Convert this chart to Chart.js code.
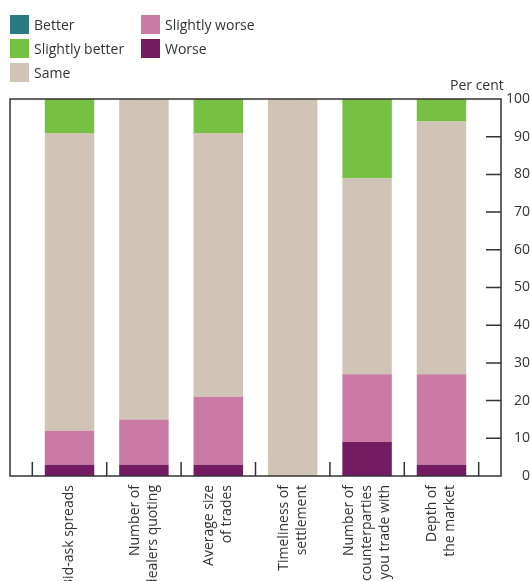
<!DOCTYPE html>
<html>
<head>
<meta charset="utf-8">
<script src="https://cdn.jsdelivr.net/npm/chart.js@4.4.0/dist/chart.umd.min.js"></script>
<style>
  body { margin: 0; background: #fff; font-family: "Open Sans", sans-serif; color: #333; }
  #wrap { position: relative; width: 530px; height: 581px; overflow: hidden; }
  #chart { position: absolute; left: 0; top: 0; }
  #legend {
    position: absolute; left: 10px; top: 12px;
    display: grid; grid-template-columns: 131px auto;
    grid-template-rows: repeat(3, 24px); grid-auto-flow: column;
    font-size: 14px;
  }
  #legend div { display: flex; align-items: center; }
  #legend span.box { width: 19px; height: 19px; margin-right: 5px; }
  #unit { position: absolute; left: 450px; top: 76px; font-size: 14px; line-height: 18px; }
</style>
</head>
<body>
<div id="wrap">
  <canvas id="chart" width="530" height="581"></canvas>
  <div id="legend"></div>
  <div id="unit">Per cent</div>
</div>
<script>
// categories (multi-line labels)
const categories = [
    ["Bid-ask spreads"],
    ["Number of", "dealers quoting"],
    ["Average size", "of trades"],
    ["Timeliness of", "settlement"],
    ["Number of", "counterparties", "you trade with"],
    ["Depth of", "the market"]
];

// series, per cent of respondents
const better         = [0, 0, 0, 0, 0, 0];
const slightlyBetter = [9, 0, 9, 0, 21, 6];
const same           = [79, 85, 70, 100, 52, 67];
const slightlyWorse  = [9, 12, 18, 0, 18, 24];
const worse          = [3, 3, 3, 0, 9, 3];

const yTicks = [0, 10, 20, 30, 40, 50, 60, 70, 80, 90, 100];

// legend order (top-down, left column first)
const legendNames  = ["Better", "Slightly better", "Same", "Slightly worse", "Worse"];
const legendColors = ["#2a7b80", "#76c043", "#d0c4b6", "#c97ba4", "#741c62"];

const toPoints = (arr) => arr.map((v, i) => ({ x: i, y: v }));

// stacking goes bottom-up: worse first
const stackOrder = [
    { name: "Worse", data: worse },
    { name: "Slightly worse", data: slightlyWorse },
    { name: "Same", data: same },
    { name: "Slightly better", data: slightlyBetter },
    { name: "Better", data: better }
];

const datasets = stackOrder.map((s) => ({
    label: s.name,
    data: toPoints(s.data),
    backgroundColor: legendColors[legendNames.indexOf(s.name)],
    borderWidth: 0,
    barPercentage: 0.665,
    categoryPercentage: 1
}));

// html legend
const legendEl = document.getElementById("legend");
legendNames.forEach((n, i) => {
    const item = document.createElement("div");
    item.innerHTML = `<span class="box" style="background:${legendColors[i]}"></span>${n}`;
    legendEl.appendChild(item);
});

const FONT = '"Open Sans", sans-serif';

// box, inward ticks and rotated category labels
const frame = {
    id: "frame",
    afterDatasetsDraw(chart) {
        const { ctx, chartArea: a, scales } = chart;
        const x = scales.x, y = scales.y;
        ctx.save();
        ctx.strokeStyle = "#333";
        ctx.lineWidth = 1.5;
        ctx.strokeRect(a.left, a.top, a.right - a.left, a.bottom - a.top);

        ctx.beginPath();
        yTicks.forEach((v) => {
            if (v > 0 && v < 100) {
                const py = y.getPixelForValue(v);
                ctx.moveTo(a.right - 15, py);
                ctx.lineTo(a.right, py);
            }
        });
        for (let i = 0; i <= categories.length; i++) {
            const px = x.getPixelForValue(i - 0.5);
            ctx.moveTo(px, a.bottom);
            ctx.lineTo(px, a.bottom - 14);
        }
        ctx.stroke();

        ctx.fillStyle = "#333";
        ctx.font = "14px " + FONT;
        ctx.textAlign = "right";
        ctx.textBaseline = "middle";
        categories.forEach((lines, i) => {
            const px = x.getPixelForValue(i);
            lines.forEach((t, j) => {
                ctx.save();
                ctx.translate(px + (j - (lines.length - 1) / 2) * 18, a.bottom + 9);
                ctx.rotate(-Math.PI / 2);
                ctx.fillText(t, 0, 0);
                ctx.restore();
            });
        });
        ctx.restore();
    }
};

new Chart(document.getElementById("chart"), {
    type: "bar",
    data: { datasets: datasets },
    options: {
        responsive: false,
        animation: false,
        layout: { padding: { top: 99, left: 10, right: 0, bottom: 0 } },
        plugins: { legend: { display: false }, tooltip: { enabled: false } },
        scales: {
            x: {
                type: "linear",
                min: -0.8,
                max: 5.8,
                offset: false,
                stacked: true,
                grid: { display: false },
                border: { display: false },
                afterBuildTicks: (s) => { s.ticks = categories.map((c, i) => ({ value: i })); },
                ticks: { display: false },
                afterFit: (s) => { s.height = 105; }
            },
            y: {
                position: "right",
                min: 0,
                max: 100,
                stacked: true,
                grid: { display: false },
                border: { display: false },
                afterBuildTicks: (s) => { s.ticks = yTicks.map((v) => ({ value: v })); },
                ticks: {
                    crossAlign: "far",
                    color: "#333",
                    font: { family: FONT, size: 14 }
                },
                afterFit: (s) => { s.width = 29; }
            }
        }
    },
    plugins: [frame]
});
</script>
</body>
</html>
